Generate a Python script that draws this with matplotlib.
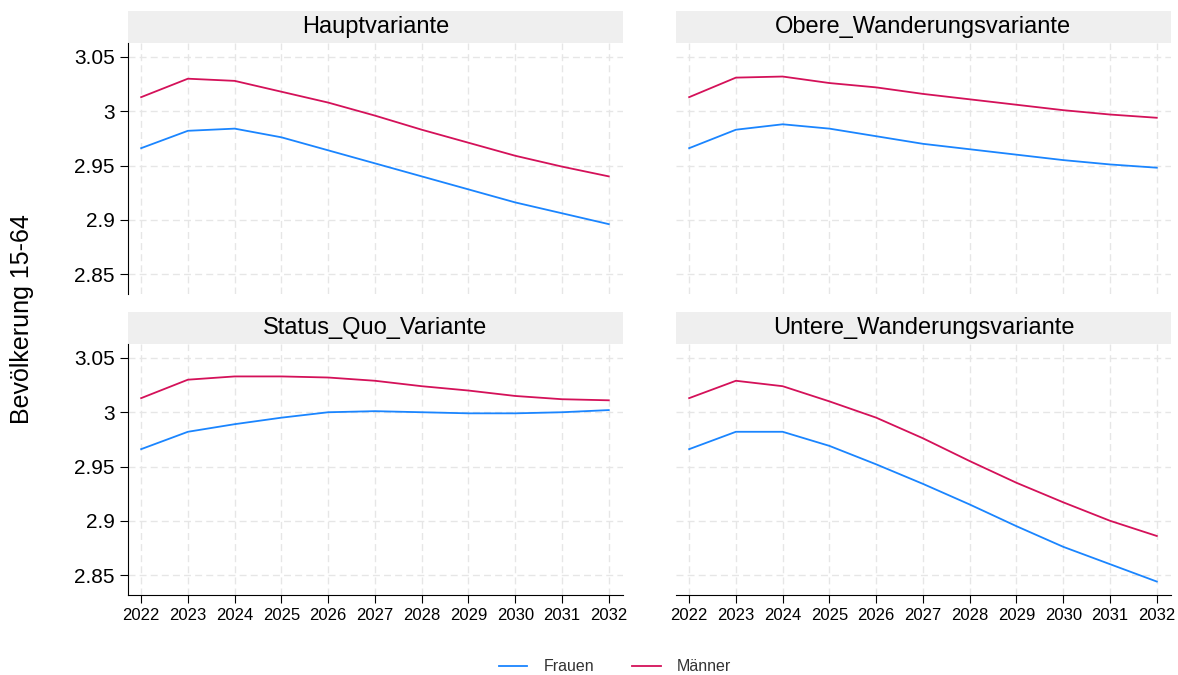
import matplotlib.pyplot as plt
from matplotlib.patches import Rectangle

plt.rcParams['font.family'] = ['Liberation Sans', 'DejaVu Sans']

years = list(range(2022, 2033))
panels = ["Hauptvariante", "Obere_Wanderungsvariante",
          "Status_Quo_Variante", "Untere_Wanderungsvariante"]

# Bevölkerung 15-64 (Mio.)
frauen = {
    "Hauptvariante": [2.966, 2.982, 2.984, 2.976, 2.964, 2.952, 2.940, 2.928, 2.916, 2.906, 2.896],
    "Obere_Wanderungsvariante": [2.966, 2.983, 2.988, 2.984, 2.977, 2.970, 2.965, 2.960, 2.955, 2.951, 2.948],
    "Status_Quo_Variante": [2.966, 2.982, 2.989, 2.995, 3.000, 3.001, 3.000, 2.999, 2.999, 3.000, 3.002],
    "Untere_Wanderungsvariante": [2.966, 2.982, 2.982, 2.969, 2.952, 2.934, 2.915, 2.895, 2.876, 2.860, 2.844],
}
maenner = {
    "Hauptvariante": [3.013, 3.030, 3.028, 3.018, 3.008, 2.996, 2.983, 2.971, 2.959, 2.949, 2.940],
    "Obere_Wanderungsvariante": [3.013, 3.031, 3.032, 3.026, 3.022, 3.016, 3.011, 3.006, 3.001, 2.997, 2.994],
    "Status_Quo_Variante": [3.013, 3.030, 3.033, 3.033, 3.032, 3.029, 3.024, 3.020, 3.015, 3.012, 3.011],
    "Untere_Wanderungsvariante": [3.013, 3.029, 3.024, 3.010, 2.995, 2.976, 2.955, 2.935, 2.917, 2.900, 2.886],
}
yticks = [2.85, 2.9, 2.95, 3.0, 3.05]
ytick_labels = ["2.85", "2.9", "2.95", "3", "3.05"]

fig = plt.figure(figsize=(11.78, 6.75), dpi=100)

lefts = [0.1087, 0.5739]
width = 0.4200
bottoms = [0.5644, 0.1185]
height = 0.3719
strip_h = 32 / 251

for i, name in enumerate(panels):
    row, col = divmod(i, 2)
    ax = fig.add_axes([lefts[col], bottoms[row], width, height])
    ax.plot(years, frauen[name], color='#1a85ff', lw=1.3, label='Frauen')
    ax.plot(years, maenner[name], color='#d41159', lw=1.3, label='Männer')
    ax.set_xlim(2021.72, 2032.3)
    ax.set_ylim(2.8316, 3.0629)
    ax.set_xticks(years)
    ax.set_yticks(yticks)
    ax.set_yticklabels(ytick_labels)
    ax.grid(True, color='#e6e6e6', lw=1, linestyle=(0, (5, 3)))
    ax.set_axisbelow(True)
    for s in ['top', 'right']:
        ax.spines[s].set_visible(False)
    ax.spines['left'].set_visible(col == 0)
    ax.spines['bottom'].set_visible(row == 1)
    ax.tick_params(axis='y', labelsize=15, length=6 if col == 0 else 0,
                   labelleft=(col == 0))
    ax.tick_params(axis='x', labelsize=12, length=6 if row == 1 else 0,
                   labelbottom=(row == 1))
    # strip header
    ax.add_patch(Rectangle((0, 1), 1, strip_h, transform=ax.transAxes,
                           facecolor='#efefef', edgecolor='none', clip_on=False))
    ax.text(0.5, 1 + strip_h / 2, name, transform=ax.transAxes,
            ha='center', va='center', fontsize=17)
    if i == 0:
        handles, labels = ax.get_legend_handles_labels()

fig.text(0.019, 0.527, 'Bevölkerung 15-64', rotation=90, fontsize=18,
         ha='center', va='center')
leg = fig.legend(handles, labels, loc='center', ncol=2, frameon=False,
                 bbox_to_anchor=(0.522, 0.012), fontsize=11.5, handlelength=1.8,
                 handletextpad=1.0, columnspacing=2.4)
for t in leg.get_texts():
    t.set_color('#333333')

fig.savefig('out.png', dpi=100)
